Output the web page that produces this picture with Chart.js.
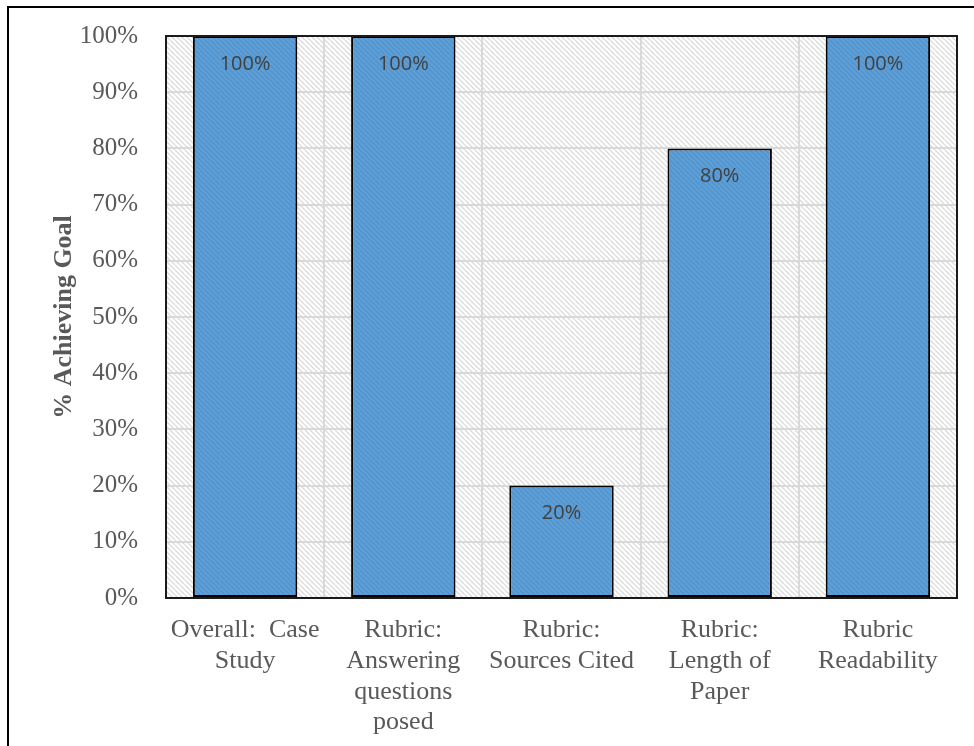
<!DOCTYPE html>
<html>
<head>
<meta charset="utf-8">
<script src="https://cdn.jsdelivr.net/npm/chart.js@4.4.1/dist/chart.umd.min.js"></script>
<style>
  html, body { margin: 0; padding: 0; background: #fff; }
  canvas { display: block; }
</style>
</head>
<body>
<canvas id="chart" width="974" height="746"></canvas>
<script>
/* Rubric results — % achieving goal per criterion */

const CATEGORIAS = [
  ["Overall:  Case", "Study"],
  ["Rubric:", "Answering", "questions", "posed"],
  ["Rubric:", "Sources Cited"],
  ["Rubric:", "Length of", "Paper"],
  ["Rubric", "Readability"],
];
const VALORES = [100, 100, 20, 80, 100];
const Y_TICKS = [0, 10, 20, 30, 40, 50, 60, 70, 80, 90, 100];
const TITULO_Y = "% Achieving Goal";

const SERIF = "'Liberation Serif', 'Times New Roman', serif";
const SANS = "'Open Sans', 'Liberation Sans', sans-serif";

// hachura diagonal "\" (fundo e barras)
function hatch(bg, fg, size = 5, lw = 1.4) {
  const c = document.createElement("canvas");
  c.width = size; c.height = size;
  const g = c.getContext("2d");
  g.fillStyle = bg; g.fillRect(0, 0, size, size);
  g.strokeStyle = fg; g.lineWidth = lw;
  for (let i = -size; i <= size; i += size) {
    g.beginPath(); g.moveTo(i, 0); g.lineTo(i + size, size); g.stroke();
  }
  return document.getElementById("chart").getContext("2d").createPattern(c, "repeat");
}
const fundoPlot = hatch("#ffffff", "#dcdcdc");
const fundoBarra = hatch("#5e9fd6", "#5292cd");

const plotFundo = {
  id: "plotFundo",
  beforeDraw(chart) {
    const { ctx, chartArea: a } = chart;
    ctx.save();
    ctx.fillStyle = fundoPlot;
    ctx.fillRect(a.left, a.top, a.right - a.left, a.bottom - a.top);
    ctx.restore();
  },
  afterDatasetsDraw(chart) {
    const { ctx, chartArea: a } = chart;
    ctx.save();
    // moldura da área do gráfico
    ctx.strokeStyle = "#1a1a1a"; ctx.lineWidth = 2;
    ctx.strokeRect(a.left, a.top, a.right - a.left, a.bottom - a.top);
    // rótulos de dados
    ctx.fillStyle = "#404040";
    ctx.font = `20px ${SANS}`;
    ctx.textAlign = "center"; ctx.textBaseline = "middle";
    chart.getDatasetMeta(0).data.forEach((bar, i) => {
      ctx.fillText(`${VALORES[i]}%`, bar.x, bar.y + 28);
    });
    // borda externa da figura
    ctx.strokeStyle = "#000"; ctx.lineWidth = 2;
    ctx.beginPath();
    ctx.moveTo(8, chart.height + 5); ctx.lineTo(8, 7); ctx.lineTo(chart.width + 5, 7);
    ctx.stroke();
    ctx.restore();
  },
};

new Chart(document.getElementById("chart"), {
  type: "bar",
  data: {
    labels: CATEGORIAS,
    datasets: [{
      data: VALORES,
      backgroundColor: fundoBarra,
      borderColor: "#000",
      borderWidth: 2,
      borderSkipped: false,
      categoryPercentage: 1,
      barPercentage: 0.66,
    }],
  },
  options: {
    responsive: false,
    animation: false,
    devicePixelRatio: 1,
    layout: { padding: { left: 40, top: 36, right: 17, bottom: 0 } },
    plugins: { legend: { display: false }, tooltip: { enabled: false } },
    scales: {
      x: {
        grid: { color: "#d9d9d9", lineWidth: 2, drawTicks: false, offset: true },
        border: { display: false },
        ticks: { color: "#595959", font: { family: SERIF, size: 26, lineHeight: 1.18 }, padding: 17, maxRotation: 0, autoSkip: false },
        afterFit: (s) => { s.height = 148; },
      },
      y: {
        min: 0, max: 100,
        afterBuildTicks: (s) => { s.ticks = Y_TICKS.map((v) => ({ value: v })); },
        grid: { color: "#d9d9d9", lineWidth: 2, drawTicks: true, tickLength: 22, tickColor: "rgba(0,0,0,0)" },
        border: { display: false },
        ticks: { color: "#595959", font: { family: SERIF, size: 25 }, padding: 6, callback: (v) => `${v}%` },
        title: { display: true, text: TITULO_Y, color: "#595959", font: { family: SERIF, size: 26, weight: "bold" }, padding: { top: 9, bottom: 0 } },
        afterFit: (s) => { s.width = 126; },
      },
    },
  },
  plugins: [plotFundo],
});
</script>
</body>
</html>
